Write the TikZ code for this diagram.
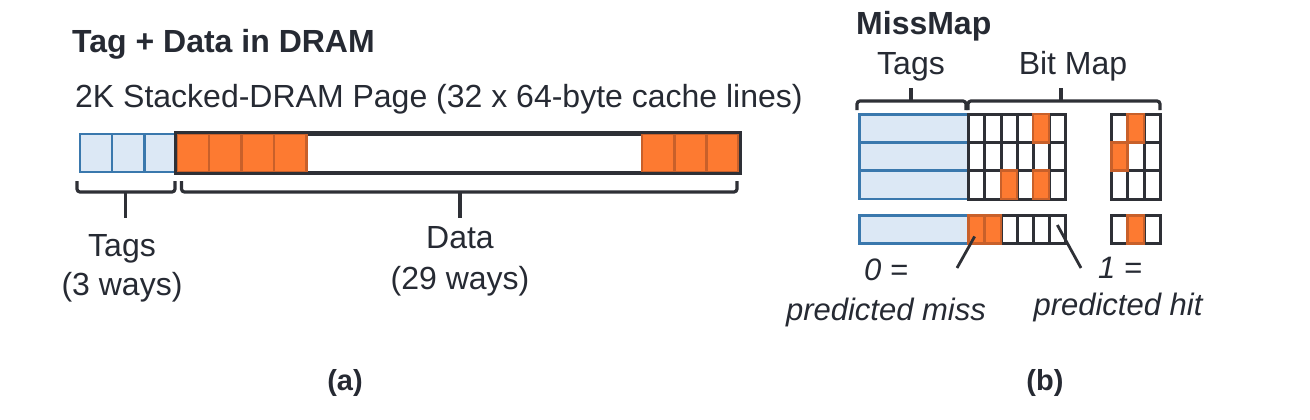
\documentclass[tikz,border=0pt]{standalone}
\usepackage{fontspec}
\setmainfont{Liberation Sans}
\definecolor{ink}{HTML}{262A33}
\definecolor{tagfill}{HTML}{DCE8F5}
\definecolor{tagline}{HTML}{3A78AD}
\definecolor{orfill}{HTML}{FD7A31}
\definecolor{orline}{HTML}{C8602A}
\definecolor{gridline}{HTML}{2E3036}
\tikzset{
  lbl/.style={text=ink, inner sep=0pt, font=\fontsize{32}{38}\selectfont},
  boldlbl/.style={lbl, font=\fontsize{32}{38}\selectfont\bfseries},
  itlbl/.style={lbl, font=\fontsize{31}{37}\selectfont\itshape},
  tagcell/.style={draw=tagline, fill=tagfill, line width=2.8pt, inner sep=0pt, anchor=north west},
  bitcell/.style={draw=gridline, fill=white, line width=3pt, inner sep=0pt, anchor=north west, minimum width=16.1pt},
  orcell/.style={draw=orline, fill=orfill, line width=2.6pt, inner sep=0pt, anchor=north west},
  brace/.style={draw=gridline, line width=3.2pt, rounded corners=3pt},
  pointer/.style={draw=gridline, line width=2.8pt},
}
\begin{document}
\begin{tikzpicture}[x=1pt,y=-1pt]
\useasboundingbox (0,0) rectangle (1310,420);
% ---------------- (a) ----------------
\node[boldlbl, anchor=base west] (titleA) at (72,53) {Tag + Data in DRAM};
\node[lbl, anchor=base west] (pageA) at (75,107) {2K Stacked-DRAM Page (32 x 64-byte cache lines)};
\foreach \i in {0,1,2} {
  \node[tagcell, minimum width=32.17pt, minimum height=38pt] (ta\i) at ({78.5+32.17*\i},132.5) {};
}
\node[draw=gridline, fill=white, line width=3pt, inner sep=0pt, anchor=north west,
      minimum width=562.3pt, minimum height=38pt] (frame) at (175,132.5) {};
\foreach \i in {0,1,2,3} {
  \node[orcell, minimum width=32.5pt, minimum height=38pt] (da\i) at ({175+32.5*\i},132.5) {};
}
\foreach \i in {0,1,2} {
  \node[orcell, minimum width=32.2pt, minimum height=38pt] (db\i) at ({640.7+32.2*\i},132.5) {};
}
\draw[draw=gridline, line width=3pt] (frame.north west) rectangle (frame.south east);
% braces (a)
\draw[brace] (77,181) -- (77,192) -- (175,192) -- (175,181);
\coordinate (tagstem) at (125.5,192);
\draw[draw=gridline, line width=3.2pt] (tagstem) -- (125.5,218);
\draw[brace] (181.5,181) -- (181.5,192) -- (737,192) -- (737,181);
\coordinate (datastem) at (460,192);
\draw[draw=gridline, line width=3.2pt] (datastem) -- (460,218);
\node[lbl, anchor=base] (tagsA) at (122,256) {Tags};
\node[lbl, anchor=base] (ways3) at (122,295) {(3 ways)};
\node[lbl, anchor=base] (dataA) at (460,248) {Data};
\node[lbl, anchor=base] (ways29) at (460,289) {(29 ways)};
\node[boldlbl, anchor=base, font=\fontsize{29}{34}\selectfont\bfseries] (capA) at (345,390) {(a)};
% ---------------- (b) ----------------
\node[boldlbl, anchor=base west] (missmap) at (856,35) {MissMap};
\node[lbl, anchor=base] (tagsB) at (911,75) {Tags};
\node[lbl, anchor=base] (bitmap) at (1073,75) {Bit Map};
\draw[brace] (857,110) -- (857,101) -- (966,101) -- (966,110);
\draw[draw=gridline, line width=3.2pt] (911,101) -- (911,88);
\draw[brace] (968,110) -- (968,101) -- (1160,101) -- (1160,110);
\draw[draw=gridline, line width=3.2pt] (1061,101) -- (1061,88);
% rows
\foreach \r/\y in {1/112.7,2/141,3/169.3,4/214} {
  \node[tagcell, minimum width=108.8pt, minimum height=28.3pt] (row\r) at (858,\y) {};
  \foreach \c in {0,...,5} {
    \node[bitcell, minimum height=28.3pt] (b\r l\c) at ({967.3+16.1*\c},\y) {};
  }
  \foreach \c in {0,1,2} {
    \node[bitcell, minimum width=16.4pt, minimum height=28.3pt] (b\r r\c) at ({1110+16.4*\c},\y) {};
  }
}
% orange bits
\foreach \r/\c/\yy in {1/4/112.7,3/2/169.3,3/4/169.3,4/0/214,4/1/214} {
  \node[orcell, minimum width=16.1pt, minimum height=28.3pt] (o\r l\c) at ({967.3+16.1*\c},\yy) {};
}
\foreach \r/\c/\yy in {1/1/112.7,2/0/141,4/1/214} {
  \node[orcell, minimum width=16.4pt, minimum height=28.3pt] (o\r r\c) at ({1110+16.4*\c},\yy) {};
}
% pointers
\coordinate (missend) at (957,268);
\coordinate (hitend) at (1081,268);
\draw[pointer] ([xshift=-2pt,yshift=-7pt]o4l0.center) -- (missend);
\draw[pointer] ([yshift=-11pt]b4l5.north) -- (hitend);
\node[itlbl, anchor=base] (zero) at (886,280) {0 =};
\node[itlbl, anchor=base] (predmiss) at (886,320) {predicted miss};
\node[itlbl, anchor=base] (one) at (1120,278) {1 =};
\node[itlbl, anchor=base] (predhit) at (1118,315) {predicted hit};
\node[boldlbl, anchor=base, font=\fontsize{29}{34}\selectfont\bfseries] (capB) at (1045,390) {(b)};
\end{tikzpicture}
\end{document}
